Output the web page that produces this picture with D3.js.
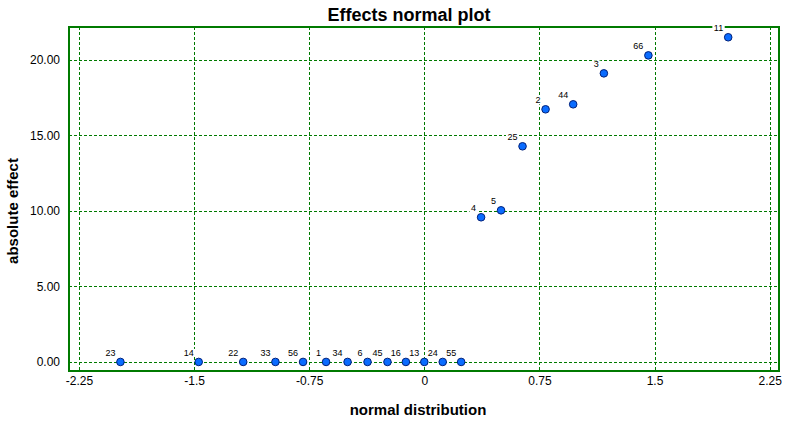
<!DOCTYPE html>
<html>
<head>
<meta charset="utf-8">
<script src="https://cdn.jsdelivr.net/npm/d3@7"></script>
<style>
  body { margin: 0; background: #fff; }
  text { font-family: "Liberation Sans", Arial, sans-serif; }
</style>
</head>
<body>
<svg id="chart" width="799" height="423"></svg>
<script>
// effect labels, normal quantile, absolute effect
const effectNames = ["23", "14", "22", "33", "56", "1", "34", "6", "45", "16", "13", "24", "55",
                     "4", "5", "25", "2", "44", "3", "66", "11"];
const normalScores = [-1.98, -1.47, -1.18, -0.97, -0.79, -0.64, -0.50, -0.37, -0.24, -0.12, 0.0, 0.12, 0.24,
                      0.37, 0.50, 0.64, 0.79, 0.97, 1.17, 1.46, 1.98];
const absEffects = [0, 0, 0, 0, 0, 0, 0, 0, 0, 0, 0, 0, 0,
                    9.58, 10.04, 14.28, 16.73, 17.06, 19.11, 20.30, 21.50];
const xTicks = [-2.25, -1.5, -0.75, 0, 0.75, 1.5, 2.25];
const yTicks = [0, 5, 10, 15, 20];

const svg = d3.select("#chart");
const MARGIN = { left: 69, right: 20, top: 27, bottom: 52 };
const width = 799 - MARGIN.left - MARGIN.right;
const height = 423 - MARGIN.top - MARGIN.bottom;
const green = "#007a00";

const x = d3.scaleLinear().domain([-2.315, 2.311]).range([0, width]);
const y = d3.scaleLinear().domain([-0.6, 22.18]).range([height, 0]);

const g = svg.append("g").attr("transform", `translate(${MARGIN.left},${MARGIN.top})`);

// dashed grid
g.selectAll(".vgrid").data(xTicks).join("line")
  .attr("x1", d => Math.round(x(d)) + 0.5).attr("x2", d => Math.round(x(d)) + 0.5)
  .attr("y1", 0).attr("y2", height)
  .attr("stroke", green).attr("stroke-dasharray", "3,2")
  .attr("shape-rendering", "crispEdges");
g.selectAll(".hgrid").data(yTicks).join("line")
  .attr("x1", 0).attr("x2", width)
  .attr("y1", d => Math.round(y(d)) + 0.5).attr("y2", d => Math.round(y(d)) + 0.5)
  .attr("stroke", green).attr("stroke-dasharray", "3,2")
  .attr("shape-rendering", "crispEdges");

// frame
g.append("rect")
  .attr("width", width).attr("height", height)
  .attr("fill", "none").attr("stroke", green).attr("stroke-width", 2)
  .attr("shape-rendering", "crispEdges");

// axes (labels only, no tick marks)
const xAxis = g.append("g").attr("transform", `translate(0,${height})`)
  .call(d3.axisBottom(x).tickValues(xTicks).tickSize(0).tickPadding(5)
    .tickFormat(d => String(d)));
const yAxis = g.append("g")
  .call(d3.axisLeft(y).tickValues(yTicks).tickSize(0).tickPadding(9).tickFormat(d => d.toFixed(2)));
[xAxis, yAxis].forEach(a => {
  a.select(".domain").remove();
  a.selectAll("text").attr("font-size", "12px").attr("fill", "#000")
    .attr("font-family", "'Liberation Sans', Arial, sans-serif");
});

// point labels with white backing
const pts = effectNames.map((n, i) => ({ name: n, nx: normalScores[i], ae: absEffects[i] }));
const lbl = g.selectAll(".lbl").data(pts).join("g").attr("class", "lbl");
lbl.append("text")
  .attr("x", d => x(d.nx) - 5)
  .attr("y", d => y(d.ae) - 6)
  .attr("text-anchor", "end")
  .attr("font-size", "9px")
  .attr("fill", "#000")
  .text(d => d.name);
lbl.each(function () {
  const t = d3.select(this).select("text");
  const b = t.node().getBBox();
  d3.select(this).insert("rect", "text")
    .attr("x", b.x - 1.5).attr("y", b.y + 1)
    .attr("width", b.width + 3).attr("height", b.height - 2)
    .attr("fill", "#fff");
});

// points
g.selectAll(".pt").data(pts).join("circle")
  .attr("cx", d => x(d.nx))
  .attr("cy", d => y(d.ae))
  .attr("r", 3.8)
  .attr("fill", "#0a6cff")
  .attr("stroke", "#00207a")
  .attr("stroke-width", 1);

// titles
svg.append("text")
  .attr("x", 409).attr("y", 21)
  .attr("text-anchor", "middle")
  .attr("font-size", "18px").attr("font-weight", "bold")
  .text("Effects normal plot");

svg.append("text")
  .attr("x", 418).attr("y", 415)
  .attr("text-anchor", "middle")
  .attr("font-size", "15px").attr("font-weight", "bold")
  .text("normal distribution");

svg.append("text")
  .attr("transform", "translate(18,211) rotate(-90)")
  .attr("text-anchor", "middle")
  .attr("font-size", "15px").attr("font-weight", "bold")
  .text("absolute effect");
</script>
</body>
</html>
